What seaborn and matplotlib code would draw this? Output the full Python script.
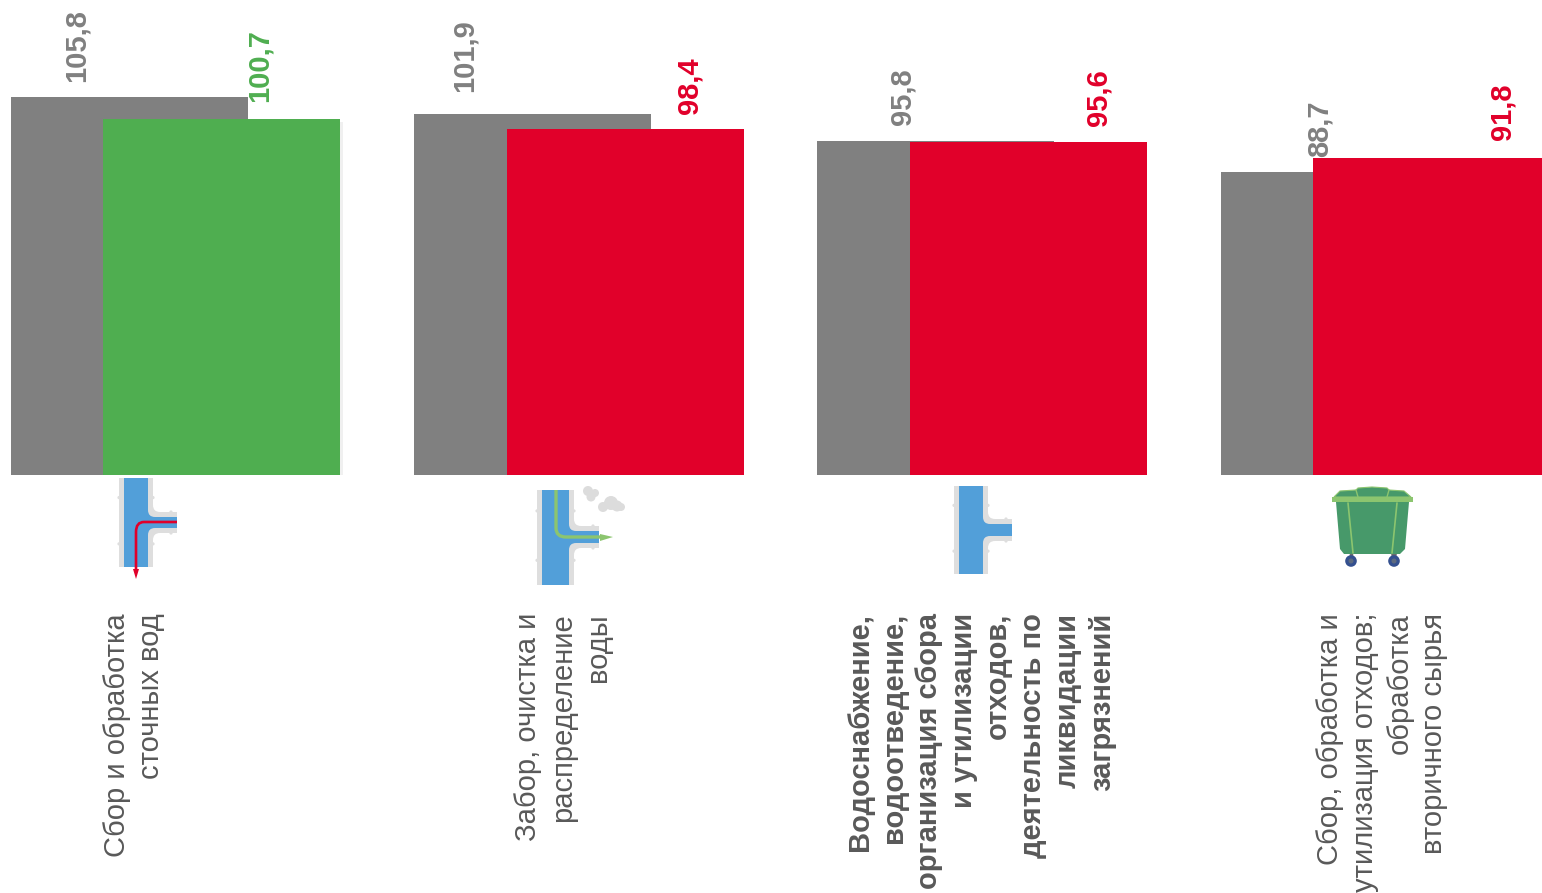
import matplotlib
matplotlib.use("Agg")
import matplotlib.pyplot as plt
import matplotlib.colors as mcolors
import matplotlib.patheffects as pe
from matplotlib.patches import Circle, PathPatch, Polygon, Rectangle
from matplotlib.path import Path
import numpy as np
import pandas as pd
import seaborn as sns

categories = [
    "Сбор и обработка\nсточных вод",
    "Забор, очистка и\nраспределение\nводы",
    "Водоснабжение,\nводоотведение,\nорганизация сбора\nи утилизации\nотходов,\nдеятельность по\nликвидации\nзагрязнений",
    "Сбор, обработка и\nутилизация отходов;\nобработка\nвторичного сырья",
]
previous_values = [105.8, 101.9, 95.8, 88.7]
current_values = [100.7, 98.4, 95.6, 91.8]

GREY = "#808080"
GREEN = "#4fae50"
RED = "#e1002a"
TEXT = "#595959"
PIPE = "#dedede"
BLUE = "#529fd9"
current_colours = [GREEN, RED, RED, RED]

W, H = 1542, 893
BASE_PX = 475

sns.set_theme(style="white")
plt.rcParams["font.family"] = ["Liberation Sans", "DejaVu Sans"]

fig = plt.figure(figsize=(W / 100, H / 100), dpi=100)
ax = fig.add_axes([0, 1 - BASE_PX / H, 1, BASE_PX / H])

positions = np.arange(len(categories), dtype=float)
shift = 0.2293
df_prev = pd.DataFrame({"x": positions, "value": previous_values})
df_cur = pd.DataFrame({"x": positions + shift, "value": current_values, "colour": current_colours})

sns.barplot(data=df_prev, x="x", y="value", native_scale=True, width=0.5875,
            color=GREY, saturation=1, linewidth=0, edgecolor="none", ax=ax, zorder=2)
n_prev = len(ax.patches)
sns.barplot(data=df_cur, x="x", y="value", hue="colour", palette={GREEN: GREEN, RED: RED},
            dodge=False, native_scale=True, width=0.5875, saturation=1, linewidth=0,
            edgecolor="none", legend=False, ax=ax, zorder=3)

# the green bar has a faint shadow
for p in ax.patches[n_prev:]:
    if mcolors.to_hex(p.get_facecolor()) == GREEN:
        p.set_path_effects([pe.SimplePatchShadow(offset=(2, -2), shadow_rgbFace="#888888", alpha=0.12),
                            pe.Normal()])

ax.set_xlim(-0.3200, 3.5023)
ax.set_ylim(19.6, 19.6 + BASE_PX / 4.386)
ax.axis("off")

# value labels: pixel offset from bar centre, gap above bar top
prev_dx = [-52, -68, -33, -20]
prev_gap = [15, 22, 16, 15]
cur_dx = [38, 64, 70, 71]
cur_gap = [17, 15, 16, 18]
for i in range(4):
    ax.annotate(f"{previous_values[i]:.1f}".replace(".", ","), (positions[i], previous_values[i]),
                xytext=(prev_dx[i], prev_gap[i]), textcoords="offset pixels", rotation=90,
                ha="center", va="bottom", fontsize=21, fontweight="bold", color=GREY,
                annotation_clip=False, zorder=5)
    ax.annotate(f"{current_values[i]:.1f}".replace(".", ","), (positions[i] + shift, current_values[i]),
                xytext=(cur_dx[i], cur_gap[i]), textcoords="offset pixels", rotation=90,
                ha="center", va="bottom", fontsize=21, fontweight="bold", color=current_colours[i],
                annotation_clip=False, zorder=5)

# overlay in picture pixels for the labels and the icons
ov = fig.add_axes([0, 0, 1, 1], facecolor="none")
ov.set_xlim(0, W)
ov.set_ylim(H, 0)
ov.axis("off")

label_x = [134, 563, 981, 1382]
for i, label in enumerate(categories):
    ov.text(label_x[i], 613, label, rotation=90, ha="center", va="top", ma="right",
            fontsize=21, color=TEXT, linespacing=1.3,
            fontweight="bold" if i == 2 else "normal")


def tee_path(left, right, top, bottom, end, b_top, b_bot, r):
    verts = [(left, top), (right, top), (right, b_top - r), (right, b_top), (right + r, b_top),
             (end, b_top), (end, b_bot), (right + r, b_bot), (right, b_bot), (right, b_bot + r),
             (right, bottom), (left, bottom), (left, top)]
    codes = [Path.MOVETO, Path.LINETO, Path.LINETO, Path.CURVE3, Path.CURVE3,
             Path.LINETO, Path.LINETO, Path.LINETO, Path.CURVE3, Path.CURVE3,
             Path.LINETO, Path.LINETO, Path.CLOSEPOLY]
    return Path(verts, codes)


def draw_tee(left, right, top, bottom, end, b_top, b_bot):
    wall = 5
    ov.add_patch(PathPatch(tee_path(left - wall, right + wall, top, bottom, end,
                                    b_top - wall, b_bot + wall, 7), fc=PIPE, ec="none"))
    ov.add_patch(PathPatch(tee_path(left, right, top, bottom, end, b_top, b_bot, 7), fc=BLUE, ec="none"))
    h = bottom - top
    for yy in (top + h * 0.22, top + h * 0.74):
        ov.add_patch(Circle((left - wall, yy), 1.6, fc=PIPE, ec="none"))
        ov.add_patch(Circle((right + wall, yy), 1.6, fc=PIPE, ec="none"))
    xx = end - 6
    ov.add_patch(Circle((xx, b_top - wall), 1.6, fc=PIPE, ec="none"))
    ov.add_patch(Circle((xx, b_bot + wall), 1.6, fc=PIPE, ec="none"))


def flow_line(verts, codes, colour, lw, arrow):
    ov.add_patch(PathPatch(Path(verts, codes), fc="none", ec=colour, lw=lw, capstyle="butt"))
    ov.add_patch(Polygon(arrow, fc=colour, ec="none"))


draw_tee(124, 148, 478, 567, 177, 517, 528)
flow_line([(177, 522), (144, 522), (136, 522), (136, 532), (136, 571)],
          [Path.MOVETO, Path.LINETO, Path.CURVE3, Path.CURVE3, Path.LINETO], RED, 1.9,
          [(133, 569), (139, 569), (136, 579)])

draw_tee(542, 569, 490, 585, 599, 531, 543)
flow_line([(556, 490), (556, 528), (556, 537), (566, 537), (600, 537)],
          [Path.MOVETO, Path.LINETO, Path.CURVE3, Path.CURVE3, Path.LINETO], "#8cc56f", 2.4,
          [(600, 534), (600, 541), (613, 537)])
for cx, cy, r in [(588, 491, 5), (591, 497, 4.5), (595, 493, 4), (603, 507, 5),
                  (611, 503, 7), (617, 506, 5.5), (621, 507, 4)]:
    ov.add_patch(Circle((cx, cy), r, fc="#dcdcdc", ec="none"))

draw_tee(959, 983, 486, 574, 1012, 524, 536)

# bin
ov.add_patch(Polygon([(1350, 552), (1353, 552), (1354, 562), (1349, 562)], fc="#6b6b6b", ec="none"))
ov.add_patch(Polygon([(1391, 552), (1397, 552), (1396, 562), (1392, 562)], fc="#6b6b6b", ec="none"))
for cx in (1351, 1394):
    ov.add_patch(Circle((cx, 561), 5.8, fc="#34508f", ec="none"))
    ov.add_patch(Circle((cx, 561), 2.5, fc="#5d6a80", ec="none"))
ov.add_patch(Polygon([(1336, 502), (1409, 502), (1405, 549), (1400, 554), (1344, 554), (1340, 549)],
                     fc="#47996a", ec="none"))
ov.add_patch(Polygon([(1334, 497), (1340, 491), (1356, 490), (1358, 488), (1372, 487), (1387, 488),
                      (1389, 490), (1404, 491), (1411, 497)], fc="#47996a", ec="#8cc56f", lw=0.8))
ov.add_patch(Rectangle((1332, 497), 81, 5, fc="#8cc56f", ec="none"))
ov.plot([1348, 1353], [503, 553], color="#8cc56f", lw=1.2)
ov.plot([1397, 1392], [503, 553], color="#8cc56f", lw=1.2)
ov.plot([1356, 1358], [490, 497], color="#8cc56f", lw=1)
ov.plot([1389, 1387], [490, 497], color="#8cc56f", lw=1)
ov.set_xlim(0, W)
ov.set_ylim(H, 0)

fig.savefig("out.png", dpi=100)
